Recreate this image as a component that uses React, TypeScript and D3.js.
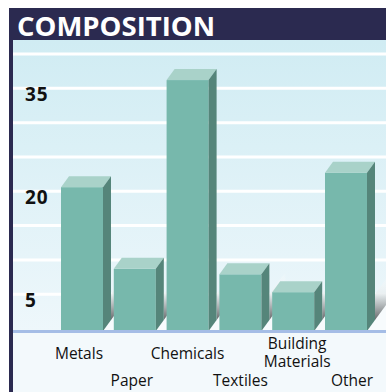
import React from "react";
import * as d3 from "d3";

const categories = ["Metals", "Paper", "Chemicals", "Textiles", "Building Materials", "Other"];
const values = [20.6, 8.7, 36.2, 7.9, 5.3, 22.7];
const labelLines = [["Metals"], ["Paper"], ["Chemicals"], ["Textiles"], ["Building", "Materials"], ["Other"]];
const gridValues = [0, 5, 10, 15, 20, 25, 30, 35, 40];
const tickLabels = [5, 20, 35];
const title = "COMPOSITION";

const W = 386;
const H = 392;
const FONT = "'Open Sans', sans-serif";

export default function App() {
  const y0 = 331;
  const y = d3.scaleLinear().domain([0, 40]).range([328.5, 54]);
  const x = d3.scaleBand<string>().domain(categories).range([61, 367]).paddingInner(0.2045).paddingOuter(0);
  const bw = x.bandwidth();
  const dx = 8;
  const dy = 11;
  const frameX = 9;
  const plotX = 13;
  const headerTop = 8;
  const headerBottom = 40;

  return (
    <svg width={W} height={H} style={{ position: "absolute", left: 0, top: 0 }}>
      <defs>
        <linearGradient id="bg" x1="0" y1="0" x2="0" y2="1">
          <stop offset="0%" stopColor="#d0ecf3" />
          <stop offset="100%" stopColor="#eef7fb" />
        </linearGradient>
        <linearGradient id="shadow" x1="0" y1="0" x2="0" y2="1">
          <stop offset="0%" stopColor="#ffffff" stopOpacity="0" />
          <stop offset="45%" stopColor="#e8eef0" stopOpacity="0.9" />
          <stop offset="100%" stopColor="#66696b" />
        </linearGradient>
      </defs>
      <rect x={0} y={0} width={W} height={H} fill="#ffffff" />
      <rect x={plotX} y={headerBottom} width={W - plotX} height={y0 - headerBottom} fill="url(#bg)" />
      <rect x={plotX} y={y0} width={W - plotX} height={H - y0} fill="#f3f9fc" />
      {gridValues.filter((v) => v > 0).map((v) => (
        <line key={v} x1={plotX} x2={W} y1={y(v)} y2={y(v)} stroke="#ffffff" strokeWidth={3} />
      ))}
      {tickLabels.map((v) => (
        <text key={v} x={25} y={y(v) + 13} fontFamily={FONT} fontWeight={700} fontSize={19} letterSpacing={1} fill="#111">
          {v}
        </text>
      ))}
      {categories.map((c) => {
        const xr = (x(c) as number) + bw;
        const sw = 16;
        const sh = 26;
        const bx = xr + dx;
        const by = y0 - dy;
        const floor = [
          [xr, y0],
          [bx, by],
          [bx + sw, by - (sw * dy) / dx],
          [bx + sw, y0],
        ];
        const shadow = [
          [bx, by - sh],
          [bx + sw, by - sh - (sw * dy) / dx],
          [bx + sw, by - (sw * dy) / dx],
          [bx, by],
        ];
        return (
          <g key={"s" + c}>
            <polygon points={floor.map((p) => p.join(",")).join(" ")} fill="#f7fbfd" />
            <polygon points={shadow.map((p) => p.join(",")).join(" ")} fill="url(#shadow)" />
          </g>
        );
      })}
      {categories.map((c, i) => {
        const xl = x(c) as number;
        const xr = xl + bw;
        const yt = y(values[i]);
        const top = [
          [xl, yt],
          [xl + dx, yt - dy],
          [xr + dx, yt - dy],
          [xr, yt],
        ];
        const side = [
          [xr, yt],
          [xr + dx, yt - dy],
          [xr + dx, y0 - dy],
          [xr, y0],
        ];
        return (
          <g key={c}>
            <rect x={xl} y={yt} width={bw} height={y0 - yt} fill="#77b8ac" />
            <polygon points={top.map((p) => p.join(",")).join(" ")} fill="#a9d2c9" />
            <polygon points={side.map((p) => p.join(",")).join(" ")} fill="#55857a" />
          </g>
        );
      })}
      <line x1={plotX} x2={W} y1={y0 + 0.5} y2={y0 + 0.5} stroke="#a5bde6" strokeWidth={3} />
      {categories.map((c, i) => {
        const cx = (x(c) as number) + bw / 2 + (i === 4 ? 4 : i === 5 ? 6 : i < 2 ? -3 : 0);
        const lines = labelLines[i];
        const baseY = i % 2 === 0 ? 359 : 386;
        return (
          <text key={"l" + c} textAnchor="middle" fontFamily={FONT} fontSize={15.5} fill="#111">
            {lines.map((ln, j) => (
              <tspan key={j} x={cx} y={lines.length > 1 ? 349 + j * 18 : baseY}>
                {ln}
              </tspan>
            ))}
          </text>
        );
      })}
      <rect x={frameX} y={headerTop} width={W - frameX} height={headerBottom - headerTop} fill="#2b2a50" />
      <rect x={frameX} y={headerTop} width={plotX - frameX} height={H - headerTop} fill="#2b2a50" />
      <text x={17} y={36} fontFamily={FONT} fontWeight={700} fontSize={27.5} fill="#ffffff">
        {title}
      </text>
    </svg>
  );
}
